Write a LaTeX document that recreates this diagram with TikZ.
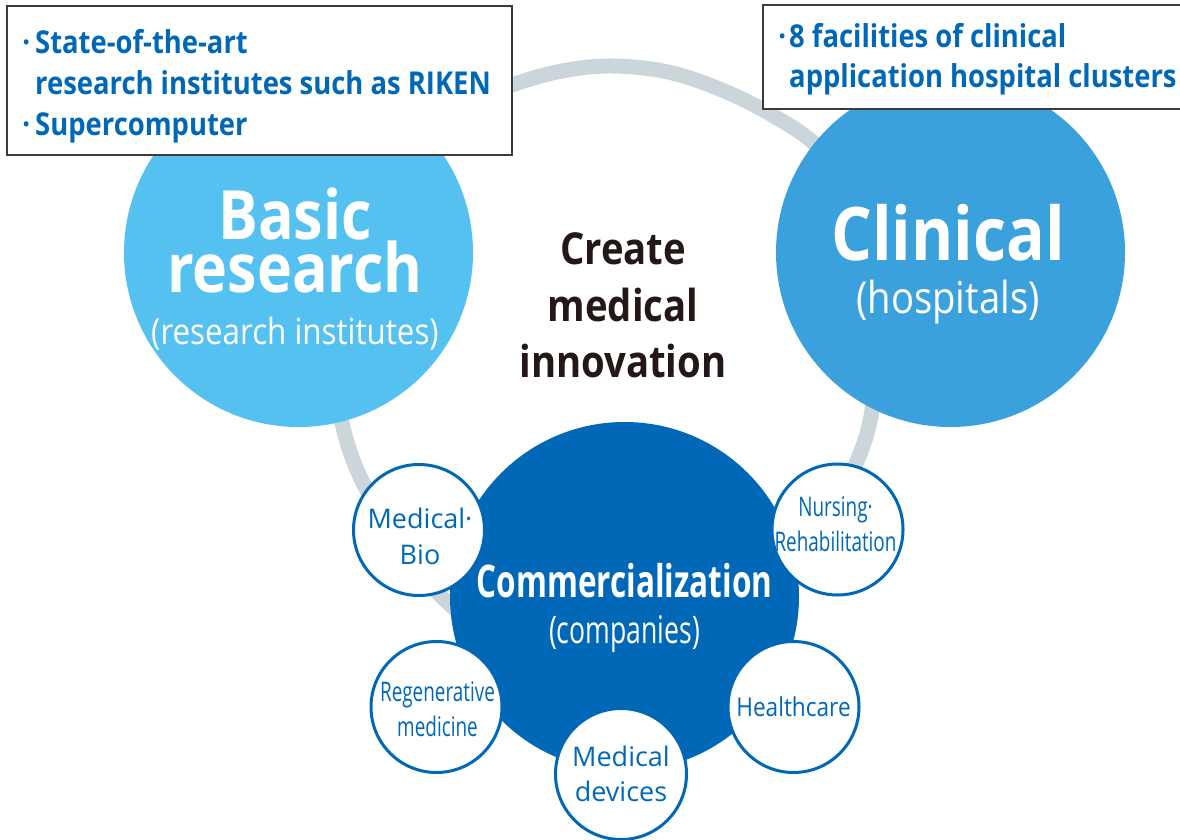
\documentclass[tikz,border=0pt]{standalone}
\usepackage{fontspec}
\setmainfont{Open Sans}
\newfontfamily\widefont[FakeStretch=0.87]{Open Sans}
\newfontfamily\condfont[FakeStretch=0.7]{Open Sans}
\definecolor{basicblue}{RGB}{85,193,240}
\definecolor{clinicblue}{RGB}{58,161,220}
\definecolor{compblue}{RGB}{0,104,183}
\definecolor{ringgrey}{RGB}{202,214,217}
\definecolor{inkdark}{RGB}{35,24,21}
\definecolor{boxline}{RGB}{62,58,57}

\begin{document}
\begin{tikzpicture}[x=1pt, y=-1pt,
	bigdisc/.style={circle, inner sep=0pt, minimum size=349pt},
	smalldisc/.style={circle, draw=compblue, line width=3pt, fill=white, inner sep=0pt, minimum size=131pt},
	infobox/.style={rectangle, draw=boxline, line width=1.5pt, fill=white, inner sep=0pt},
	lbl/.style={inner sep=0pt, align=center}]
	\useasboundingbox (0,0) rectangle (1180,840);
	% ring behind the three fields
	\draw[ringgrey, line width=15pt] plot[smooth cycle, tension=0.6] coordinates {(612,66) (668,72) (722,90) (772,115) (818,147) (858,200) (878,280) (876,370) (865,440) (830,510) (760,600) (640,660) (530,650) (445,600) (375,505) (342,423) (335,330) (360,220) (420,140) (466,105) (512,85) (562,71)};
	\node (basic)	at (298.5,252.5)	[bigdisc, fill=basicblue]	{};
	\node (clinic)	at (950.5,252.5)	[bigdisc, fill=clinicblue]	{};
	\node (boxL)	at (259.5,80.5)	[infobox, minimum width=505pt, minimum height=149pt]	{};
	\node (boxR)	at (974,57)	[infobox, minimum width=422pt, minimum height=104pt]	{};
	\node (comp)	at (624.5,596.5)	[bigdisc, fill=compblue]	{};
	\node (medbio)	at (419,530)	[smalldisc]	{};
	\node (nursing)	at (837.5,529.5)	[smalldisc]	{};
	\node (regen)	at (436.5,707)	[smalldisc]	{};
	\node (devices)	at (621,774)	[smalldisc]	{};
	\node (health)	at (793.5,707)	[smalldisc]	{};
	% texts
	\node (boxLtext) at (35,29) [inner sep=0pt, anchor=north west, align=left, text=compblue, font=\widefont\bfseries\fontsize{31.5}{41}\selectfont]
		{\llap{·\hspace{5pt}}State-of-the-art\\research institutes such as RIKEN\\\llap{·\hspace{5pt}}Supercomputer};
	\node (boxRtext) at (789,23) [inner sep=0pt, anchor=north west, align=left, text=compblue, font=\widefont\bfseries\fontsize{31.5}{40}\selectfont]
		{\llap{·\hspace{3pt}}8 facilities of clinical\\application hospital clusters};
	\node (basictext)	at (295,269)	[lbl, text=white, font=\widefont\bfseries\fontsize{68}{52}\selectfont]
		{Basic\\research\\{\mdseries\fontsize{36}{46}\selectfont (research institutes)}};
	\node (clinictext)	at (948,263.8)	[lbl, text=white, font=\widefont\bfseries\fontsize{74}{53}\selectfont]
		{Clinical\\{\mdseries\fontsize{44}{53}\selectfont (hospitals)}};
	\node (innovation)	at (623,305.5)	[lbl, text=inkdark, font=\widefont\bfseries\fontsize{44}{56.5}\selectfont]
		{Create\\medical\\innovation};
	\node (comptext)	at (624.5,607.5)	[lbl, text=white, font=\condfont\bfseries\fontsize{45}{46}\selectfont]
		{Commercialization\\{\mdseries\fontsize{38}{46}\selectfont (companies)}};
	\node (medbiotext)	at (420,536.8)	[lbl, text=compblue, font=\fontsize{27}{36}\selectfont]	{Medical·\\Bio};
	\node (nursingtext)	at (835.5,524.3)	[lbl, text=compblue, font=\condfont\fontsize{27}{35}\selectfont]	{Nursing·\\Rehabilitation};
	\node (regentext)	at (437.5,709.3)	[lbl, text=compblue, font=\condfont\fontsize{27}{35}\selectfont]	{Regenerative\\medicine};
	\node (devicestext)	at (621,774.3)	[lbl, text=compblue, font=\fontsize{27}{35}\selectfont]	{Medical\\devices};
	\node (healthtext)	at (793.5,707.1)	[lbl, text=compblue, font=\widefont\fontsize{26}{35}\selectfont]	{Healthcare};
\end{tikzpicture}
\end{document}
